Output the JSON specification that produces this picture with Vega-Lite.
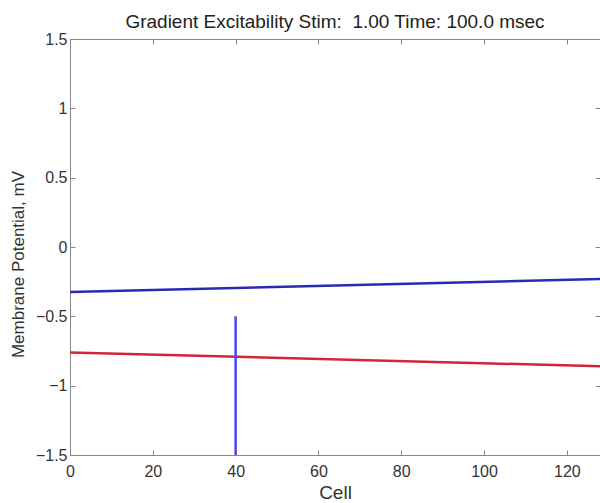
{
  "$schema": "https://vega.github.io/schema/vega-lite/v6.json",
  "width": 530,
  "height": 416,
  "autosize": "none",
  "padding": {"left": 70, "top": 39, "right": 0, "bottom": 48},
  "background": "white",
  "title": {"text": "Gradient Excitability Stim:\u00a0 1.00 Time: 100.0 msec", "font": "Liberation Sans", "fontSize": 19, "fontWeight": "normal", "color": "#222", "offset": -1, "anchor": "middle"},
  "config": {
    "view": {"stroke": "#888", "strokeWidth": 1},
    "axis": {"grid": false, "domainColor": "#888", "tickColor": "#888", "tickSize": -5, "labelFont": "Liberation Sans", "labelFontSize": 16, "labelColor": "#333", "titleFont": "Liberation Sans", "titleFontSize": 17, "titleFontWeight": "normal", "titleColor": "#333"}
  },
  "data": {"values": [
    {"series": "blue", "cell": 0, "v": -0.325},
    {"series": "blue", "cell": 128, "v": -0.23},
    {"series": "red", "cell": 0, "v": -0.76},
    {"series": "red", "cell": 128, "v": -0.86},
    {"series": "stim", "cell": 40, "v": -1.5},
    {"series": "stim", "cell": 40, "v": -0.5}
  ]},
  "layer": [
    {
      "mark": {"type": "line", "strokeWidth": 2.5, "clip": true},
      "encoding": {
        "x": {"field": "cell", "type": "quantitative", "scale": {"domain": [0, 128], "nice": false, "zero": false}, "axis": {"values": [0, 20, 40, 60, 80, 100, 120], "title": "Cell", "titleFontSize": 19, "labelPadding": 13, "titlePadding": 4, "labelFlush": false}},
        "y": {"field": "v", "type": "quantitative", "scale": {"domain": [-1.5, 1.5], "nice": false}, "axis": {"values": [-1.5, -1, -0.5, 0, 0.5, 1, 1.5], "title": "Membrane Potential, mV", "titleFontSize": 17, "titleY": 225, "labelPadding": 8, "titlePadding": 8, "labelFlush": false, "format": "~g"}},
        "color": {"field": "series", "type": "nominal", "scale": {"domain": ["blue", "red", "stim"], "range": ["#2a2ab4", "#d4263a", "#4848ee"]}, "legend": null},
        "detail": {"field": "series"}
      }
    },
    {
      "mark": {"type": "line", "opacity": 0},
      "encoding": {
        "x": {"field": "cell", "type": "quantitative", "axis": {"orient": "top", "values": [0, 20, 40, 60, 80, 100, 120], "labels": false, "title": null, "domain": false}},
        "y": {"field": "v", "type": "quantitative", "axis": {"orient": "right", "values": [-1.5, -1, -0.5, 0, 0.5, 1, 1.5], "labels": false, "title": null, "domain": false}},
        "detail": {"field": "series"}
      }
    }
  ],
  "resolve": {"axis": {"x": "independent", "y": "independent"}}
}
